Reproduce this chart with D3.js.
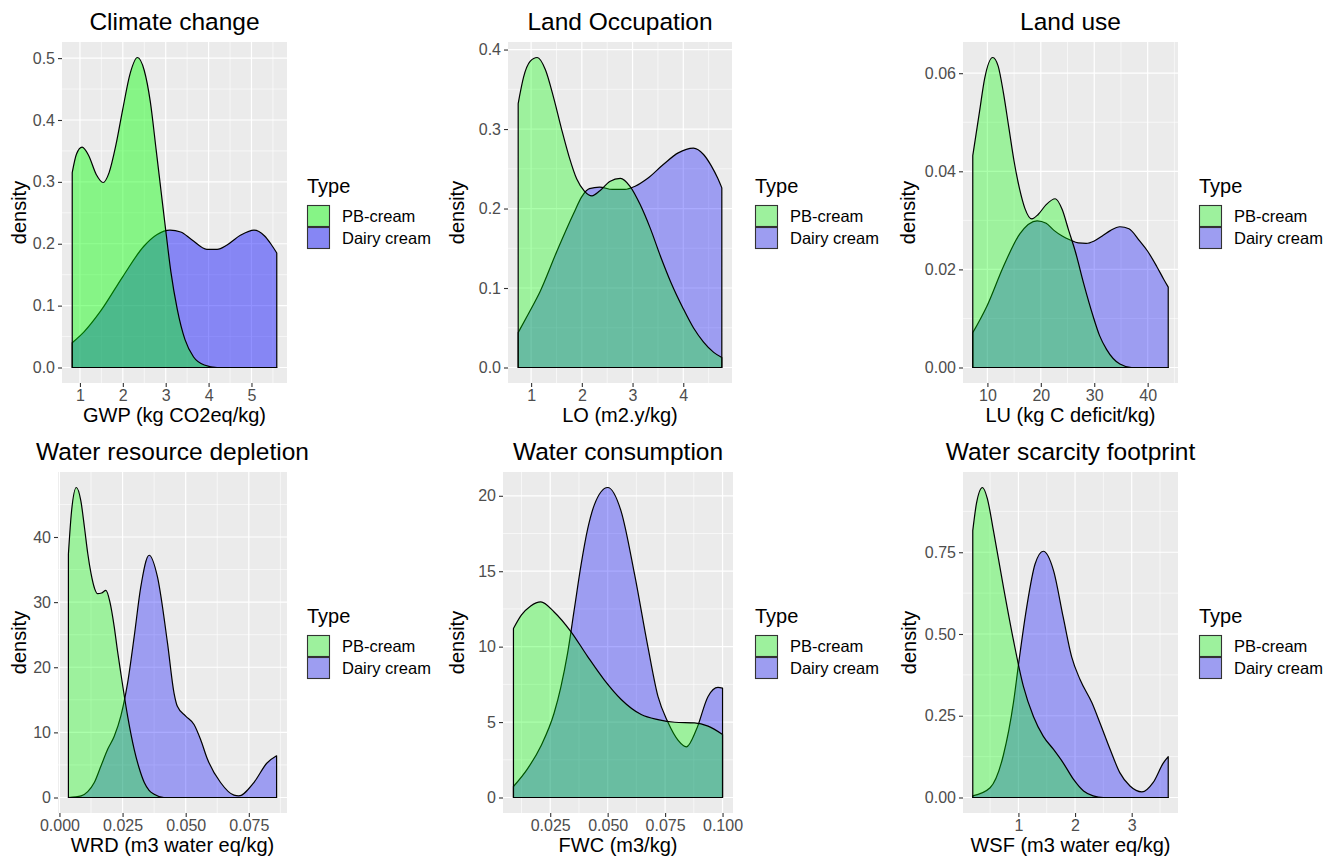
<!DOCTYPE html>
<html>
<head>
<meta charset="utf-8">
<script src="https://cdn.jsdelivr.net/npm/d3@7"></script>
<style>
  body { margin: 0; background: #fff; }
  text { font-family: "Liberation Sans", Arial, sans-serif; }
</style>
</head>
<body>
<script>
// panel titles and axis titles
const titles = ["Climate change", "Land Occupation", "Land use",
  "Water resource depletion", "Water consumption", "Water scarcity footprint"];
const xTitles = ["GWP (kg CO2eq/kg)", "LO (m2.y/kg)", "LU (kg C deficit/kg)",
  "WRD (m3 water eq/kg)", "FWC (m3/kg)", "WSF (m3 water eq/kg)"];
const types = ["PB-cream", "Dairy cream"];

// density curves: [x, density]
const gwpPB = [[0.82,0.315],[0.92,0.345],[1.05,0.356],[1.2,0.343],[1.38,0.312],[1.54,0.299],[1.68,0.315],
  [1.84,0.36],[2.0,0.418],[2.17,0.475],[2.34,0.501],[2.5,0.48],[2.64,0.43],[2.78,0.35],[2.9,0.28],[3.0,0.222],
  [3.12,0.155],[3.27,0.094],[3.45,0.045],[3.65,0.017],[3.9,0.004],[4.2,0],[5.59,0]];
const gwpDairy = [[0.82,0.04],[1.1,0.058],[1.48,0.091],[2.0,0.147],[2.49,0.196],[2.8,0.215],[3.1,0.222],
  [3.35,0.219],[3.6,0.207],[3.96,0.191],[4.2,0.191],[4.43,0.198],[4.75,0.214],[5.06,0.222],[5.3,0.213],
  [5.45,0.2],[5.59,0.185]];

const loPB = [[0.745,0.332],[0.85,0.365],[0.98,0.385],[1.12,0.39],[1.28,0.375],[1.45,0.338],[1.6,0.3],
  [1.75,0.265],[1.9,0.237],[2.05,0.222],[2.2,0.216],[2.35,0.222],[2.55,0.234],[2.76,0.238],[2.95,0.228],
  [3.15,0.205],[3.35,0.175],[3.55,0.14],[3.75,0.108],[4.0,0.074],[4.2,0.05],[4.4,0.032],[4.6,0.019],[4.76,0.0125]];
const loDairy = [[0.745,0.044],[0.95,0.068],[1.18,0.096],[1.5,0.145],[1.84,0.194],[2.0,0.215],[2.15,0.225],
  [2.35,0.227],[2.6,0.224],[2.85,0.224],[3.05,0.228],[3.3,0.238],[3.6,0.255],[3.9,0.27],[4.2,0.276],
  [4.4,0.268],[4.55,0.254],[4.68,0.238],[4.76,0.226]];

const luPB = [[7.26,0.0432],[8.5,0.052],[9.5,0.059],[11.0,0.0632],[12.0,0.0615],[13.0,0.056],[14.0,0.049],
  [15.0,0.042],[16.0,0.0365],[17.0,0.0325],[18.3,0.0303],[19.5,0.0312],[21,0.0332],[22.7,0.0344],[24,0.0322],
  [25.2,0.028],[26.5,0.0235],[28,0.0172],[29.8,0.0104],[31,0.0065],[32.3,0.0037],[34.8,0.0007],[37,0],[43.85,0]];
const luDairy = [[7.26,0.0071],[9.9,0.0125],[13.0,0.0206],[16.1,0.0273],[19.3,0.0299],[21,0.0294],[22.4,0.028],
  [24,0.0268],[25.5,0.026],[27,0.0254],[28.5,0.0253],[30,0.0258],[31.5,0.0268],[33,0.0279],[34.8,0.0287],
  [36.5,0.0283],[38.5,0.0258],[40,0.0237],[41.7,0.0206],[43,0.018],[43.85,0.0164]];

const wrdPB = [[0.00355,37.4],[0.0048,44],[0.0067,47.6],[0.0085,45.5],[0.0099,41.5],[0.0112,37.5],[0.0125,34.4],
  [0.014,32],[0.0151,31.3],[0.0167,31.4],[0.0184,31.8],[0.02,30],[0.0217,26.2],[0.023,22.5],[0.0243,19.1],
  [0.027,12.5],[0.0296,7.4],[0.0315,4.6],[0.0336,2.3],[0.0355,1.1],[0.0375,0.5],[0.0414,0],[0.086,0]];
const wrdDairy = [[0.00355,0],[0.0086,0.25],[0.0112,0.9],[0.0138,2.3],[0.0164,4.8],[0.0191,7.4],[0.0217,9.4],
  [0.0243,12.5],[0.027,17.6],[0.0296,24.7],[0.0322,32.3],[0.0355,37.2],[0.0388,33.9],[0.0428,23.7],
  [0.0454,16.0],[0.0467,14.0],[0.05,12.5],[0.0533,11.2],[0.0559,8.9],[0.0586,5.9],[0.0638,2.3],[0.0691,0.36],
  [0.071,0.25],[0.077,2.3],[0.0822,5.3],[0.086,6.4]];

const fwcPB = [[0.009,11.2],[0.0125,12.1],[0.0165,12.7],[0.0209,12.97],[0.0267,12.3],[0.034,11.0],
  [0.0413,9.34],[0.0485,7.8],[0.0559,6.5],[0.0646,5.5],[0.0719,5.16],[0.0792,4.99],[0.0878,4.95],
  [0.0937,4.73],[0.1,4.18]];
const fwcDairy = [[0.009,0.73],[0.0151,1.9],[0.0209,3.4],[0.0267,5.6],[0.0296,7.3],[0.0326,9.6],[0.0355,12.5],
  [0.0384,15.4],[0.0413,17.8],[0.0442,19.4],[0.05,20.55],[0.0558,19.0],[0.0617,14.8],[0.0675,10.0],
  [0.0719,6.7],[0.0762,5.0],[0.0806,3.8],[0.0843,3.36],[0.0886,4.5],[0.0937,6.7],[0.098,7.3],[0.1,7.25]];

const wsfPB = [[0.194,0.816],[0.26,0.9],[0.365,0.948],[0.45,0.915],[0.559,0.816],[0.735,0.644],[0.912,0.481],
  [1.088,0.34],[1.265,0.248],[1.44,0.187],[1.62,0.147],[1.79,0.106],[1.97,0.056],[2.15,0.02],[2.32,0.005],
  [2.5,0],[3.645,0]];
const wsfDairy = [[0.194,0.005],[0.5,0.03],[0.735,0.13],[0.912,0.29],[1.0,0.405],[1.147,0.583],[1.294,0.714],
  [1.44,0.753],[1.62,0.694],[1.79,0.552],[1.94,0.43],[2.09,0.36],[2.3,0.289],[2.44,0.228],[2.62,0.147],
  [2.79,0.076],[2.97,0.035],[3.18,0.017],[3.38,0.046],[3.56,0.106],[3.645,0.125]];

// tick values
const xTicks = [[1,2,3,4,5],[1,2,3,4],[10,20,30,40],[0,0.025,0.05,0.075],[0.025,0.05,0.075,0.1],[1,2,3]];
const yTicks = [[0,0.1,0.2,0.3,0.4,0.5],[0,0.1,0.2,0.3,0.4],[0,0.02,0.04,0.06],[0,10,20,30,40],
  [0,5,10,15,20],[0,0.25,0.5,0.75]];
const xFormats = ["d","d","d",".3f",".3f","d"];
const yFormats = [".1f",".1f",".2f","d","d",".2f"];

const series = [[gwpPB,gwpDairy],[loPB,loDairy],[luPB,luDairy],[wrdPB,wrdDairy],[fwcPB,fwcDairy],[wsfPB,wsfDairy]];

// layout: plot panel rectangles and legend x for each facet
const layout = [
  {x0: 62, x1: 287, y0: 42, y1: 383, lx: 307, yt: 25.5},
  {x0: 508, x1: 732, y0: 42, y1: 383, lx: 755, yt: 464},
  {x0: 963, x1: 1178, y0: 42, y1: 383, lx: 1199, yt: 915},
  {x0: 58, x1: 287, y0: 472, y1: 813, lx: 307, yt: 25.5},
  {x0: 503, x1: 733, y0: 472, y1: 813, lx: 755, yt: 464},
  {x0: 963, x1: 1178, y0: 472, y1: 813, lx: 1199, yt: 916}
];
// first facet was drawn with stronger alpha
const alphas = [0.43, 0.33, 0.33, 0.33, 0.33, 0.33];
const fills = ["#00ff00", "#0000ff"];

const svg = d3.select("body").append("svg")
    .attr("width", 1338)
    .attr("height", 862);

svg.append("rect")
    .attr("width", 1338)
    .attr("height", 862)
    .attr("fill", "#fff");

for (let i = 0; i < 6; i++) {
    drawPanel(i);
}

function minorBreaks(ticks, domain) {
    const step = ticks[1] - ticks[0];
    const out = [ticks[0] - step / 2];
    ticks.forEach(t => out.push(t + step / 2));
    return out.filter(v => v > domain[0] && v < domain[1]);
}

function drawPanel(i) {
    const L = layout[i];
    const [pb, dairy] = series[i];
    const all = pb.concat(dairy);

    const xExt = d3.extent(all, d => d[0]);
    const xPad = (xExt[1] - xExt[0]) * 0.05;
    const yMax = d3.max(all, d => d[1]);
    const xDomain = [xExt[0] - xPad, xExt[1] + xPad];
    const yDomain = [-yMax * 0.05, yMax * 1.05];

    const x = d3.scaleLinear().domain(xDomain).range([L.x0, L.x1]);
    const y = d3.scaleLinear().domain(yDomain).range([L.y1, L.y0]);

    const g = svg.append("g");

    g.append("rect")
        .attr("x", L.x0)
        .attr("y", L.y0)
        .attr("width", L.x1 - L.x0)
        .attr("height", L.y1 - L.y0)
        .attr("fill", "#ebebeb");

    // minor grid
    g.selectAll(".xminor")
        .data(minorBreaks(xTicks[i], xDomain))
        .enter().append("line")
        .attr("x1", d => x(d)).attr("x2", d => x(d))
        .attr("y1", L.y0).attr("y2", L.y1)
        .attr("stroke", "#fff").attr("stroke-width", 0.6);
    g.selectAll(".yminor")
        .data(minorBreaks(yTicks[i], yDomain))
        .enter().append("line")
        .attr("y1", d => y(d)).attr("y2", d => y(d))
        .attr("x1", L.x0).attr("x2", L.x1)
        .attr("stroke", "#fff").attr("stroke-width", 0.6);

    // major grid
    g.selectAll(".xmajor")
        .data(xTicks[i])
        .enter().append("line")
        .attr("x1", d => x(d)).attr("x2", d => x(d))
        .attr("y1", L.y0).attr("y2", L.y1)
        .attr("stroke", "#fff").attr("stroke-width", 1.2);
    g.selectAll(".ymajor")
        .data(yTicks[i])
        .enter().append("line")
        .attr("y1", d => y(d)).attr("y2", d => y(d))
        .attr("x1", L.x0).attr("x2", L.x1)
        .attr("stroke", "#fff").attr("stroke-width", 1.2);

    const area = d3.area()
        .x(d => x(d[0]))
        .y0(y(0))
        .y1(d => y(d[1]))
        .curve(d3.curveMonotoneX);

    // dairy first, PB-cream on top
    [dairy, pb].forEach((s, k) => {
        g.append("path")
            .datum(s)
            .attr("d", area)
            .attr("fill", fills[1 - k])
            .attr("fill-opacity", alphas[i])
            .attr("stroke", "#000")
            .attr("stroke-width", 1.2)
            .attr("stroke-linejoin", "round");
    });

    // axes
    const xAxis = d3.axisBottom(x)
        .tickValues(xTicks[i])
        .tickFormat(d3.format(xFormats[i]))
        .tickSize(4)
        .tickPadding(3);
    const yAxis = d3.axisLeft(y)
        .tickValues(yTicks[i])
        .tickFormat(d3.format(yFormats[i]))
        .tickSize(4)
        .tickPadding(3);

    const gx = g.append("g")
        .attr("transform", `translate(0,${L.y1})`)
        .call(xAxis);
    const gy = g.append("g")
        .attr("transform", `translate(${L.x0},0)`)
        .call(yAxis);

    [gx, gy].forEach(a => {
        a.select(".domain").remove();
        a.selectAll(".tick line").attr("stroke", "#333").attr("stroke-width", 1.1);
        a.selectAll(".tick text")
            .attr("fill", "#4d4d4d")
            .style("font-size", "16px")
            .style("font-family", "Liberation Sans, Arial, sans-serif");
    });

    // titles
    g.append("text")
        .attr("x", (L.x0 + L.x1) / 2)
        .attr("y", L.y0 - 12)
        .attr("text-anchor", "middle")
        .style("font-size", "24.5px")
        .text(titles[i]);

    g.append("text")
        .attr("x", (L.x0 + L.x1) / 2)
        .attr("y", L.y1 + 39)
        .attr("text-anchor", "middle")
        .style("font-size", "20px")
        .text(xTitles[i]);

    g.append("text")
        .attr("transform", `translate(${L.yt},${(L.y0 + L.y1) / 2}) rotate(-90)`)
        .attr("text-anchor", "middle")
        .style("font-size", "20px")
        .text("density");

    // legend
    const cy = (L.y0 + L.y1) / 2;
    const leg = g.append("g").attr("transform", `translate(${L.lx},${cy})`);
    leg.append("text")
        .attr("x", 0)
        .attr("y", -20)
        .style("font-size", "20px")
        .text("Type");
    types.forEach((t, k) => {
        leg.append("rect")
            .attr("x", 0.5)
            .attr("y", -7 + k * 22)
            .attr("width", 22)
            .attr("height", 21)
            .attr("fill", "#ebebeb");
        leg.append("rect")
            .attr("x", 0.5)
            .attr("y", -7 + k * 22)
            .attr("width", 22)
            .attr("height", 21)
            .attr("fill", fills[k])
            .attr("fill-opacity", alphas[i])
            .attr("stroke", "#333")
            .attr("stroke-width", 1.1);
        leg.append("text")
            .attr("x", 35)
            .attr("y", 9.5 + k * 22)
            .style("font-size", "16.5px")
            .text(t);
    });
}
</script>
</body>
</html>
